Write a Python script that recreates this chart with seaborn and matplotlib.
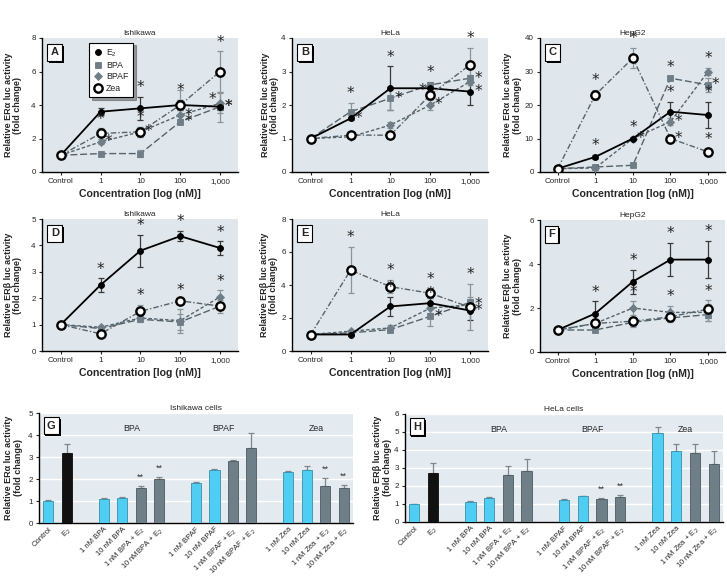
import numpy as np
import pandas as pd
import matplotlib
matplotlib.use("Agg")
import matplotlib.pyplot as plt
import matplotlib.patheffects as pe
import matplotlib.transforms as mtransforms
import matplotlib.colors as mcolors
from matplotlib.lines import Line2D
import seaborn as sns

sns.set_style("ticks")
plt.rcParams["font.family"] = ["Liberation Sans", "DejaVu Sans"]
plt.rcParams["mathtext.default"] = "regular"

W, H = 727, 576

# ---------------- data: concentration-response panels ----------------
conc_labels = ["Control", "1", "10", "100", "1,000"]
compounds = ["E2", "BPA", "BPAF", "Zea"]
legend_labels = ["E$_2$", "BPA", "BPAF", "Zea"]

# Panel A: Ishikawa ERalpha
A_E2 = [1.0, 3.6, 3.8, 4.0, 3.9]
A_BPA = [1.0, 1.1, 1.1, 3.0, 3.9]
A_BPAF = [1.0, 1.8, 2.4, 3.4, 4.1]
A_Zea = [1.0, 2.3, 2.4, 4.0, 6.0]
A_E2_err = [0, 0.2, 0.7, 0.3, 0.2]
A_BPA_err = [0, 0.05, 0.2, 0.15, 0.9]
A_BPAF_err = [0, 0.15, 0.3, 0.3, 0.6]
A_Zea_err = [0, 0.3, 0.3, 0.9, 1.2]
A_E2_sig = [0, 1, 1, 1, 2]
A_BPA_sig = [0, 0, 0, 2, 2]
A_BPAF_sig = [0, 2, 2, 2, 3]
A_Zea_sig = [0, 1, 1, 0, 1]

# Panel B: HeLa ERalpha
B_E2 = [1.0, 1.6, 2.5, 2.5, 2.4]
B_BPA = [1.0, 1.8, 2.2, 2.6, 2.8]
B_BPAF = [1.0, 1.05, 1.4, 2.0, 2.7]
B_Zea = [1.0, 1.1, 1.1, 2.3, 3.2]
B_E2_err = [0, 0.05, 0.65, 0.1, 0.4]
B_BPA_err = [0, 0.25, 0.35, 0.1, 0.1]
B_BPAF_err = [0, 0.05, 0.1, 0.15, 0.1]
B_Zea_err = [0, 0.05, 0.05, 0.1, 0.5]
B_E2_sig = [0, 2, 1, 0, 2]
B_BPA_sig = [0, 1, 2, 1, 2]
B_BPAF_sig = [0, 0, 0, 2, 0]
B_Zea_sig = [0, 0, 0, 3, 1]

# Panel C: HepG2 ERalpha
C_E2 = [1.0, 4.5, 10.0, 18.0, 17.0]
C_BPA = [1.0, 1.5, 2.0, 28.0, 26.0]
C_BPAF = [1.0, 1.2, 10.0, 15.0, 30.0]
C_Zea = [1.0, 23.0, 34.0, 10.0, 6.0]
C_E2_err = [0, 0.5, 0.5, 3.0, 4.0]
C_BPA_err = [0, 0.5, 0.5, 0.5, 2.0]
C_BPAF_err = [0, 0.3, 0.5, 1.0, 1.0]
C_Zea_err = [0, 1.5, 3.0, 1.0, 1.0]
C_E2_sig = [0, 1, 1, 1, 1]
C_BPA_sig = [0, 0, 0, 1, 2]
C_BPAF_sig = [0, 0, 2, 2, 1]
C_Zea_sig = [0, 1, 1, 2, 1]

# Panel D: Ishikawa ERbeta
D_E2 = [1.0, 2.5, 3.8, 4.35, 3.9]
D_BPA = [1.0, 0.85, 1.2, 1.1, 1.7]
D_BPAF = [1.0, 0.9, 1.25, 1.15, 2.05]
D_Zea = [1.0, 0.65, 1.5, 1.9, 1.7]
D_E2_err = [0, 0.25, 0.6, 0.2, 0.25]
D_BPA_err = [0, 0.05, 0.1, 0.3, 0.25]
D_BPAF_err = [0, 0.05, 0.1, 0.45, 0.25]
D_Zea_err = [0, 0.05, 0.25, 0.05, 0.1]
D_E2_sig = [0, 1, 1, 1, 1]
D_BPA_sig = [0, 0, 0, 0, 0]
D_BPAF_sig = [0, 0, 0, 0, 1]
D_Zea_sig = [0, 0, 1, 1, 0]

# Panel E: HeLa ERbeta
E_E2 = [1.0, 1.0, 2.7, 2.9, 2.45]
E_BPA = [1.0, 1.1, 1.3, 2.1, 2.95]
E_BPAF = [1.0, 1.2, 1.4, 2.6, 2.8]
E_Zea = [1.0, 4.9, 3.9, 3.5, 2.65]
E_E2_err = [0, 0.05, 0.6, 0.3, 0.6]
E_BPA_err = [0, 0.1, 0.1, 0.6, 0.3]
E_BPAF_err = [0, 0.1, 0.15, 0.3, 0.3]
E_Zea_err = [0, 1.4, 0.4, 0.3, 1.4]
E_E2_sig = [0, 0, 1, 0, 2]
E_BPA_sig = [0, 0, 0, 2, 0]
E_BPAF_sig = [0, 0, 0, 1, 2]
E_Zea_sig = [0, 1, 1, 1, 1]

# Panel F: HepG2 ERbeta
F_E2 = [1.0, 1.75, 3.2, 4.2, 4.2]
F_BPA = [1.0, 1.0, 1.35, 1.55, 1.7]
F_BPAF = [1.0, 1.3, 2.0, 1.8, 1.8]
F_Zea = [1.0, 1.3, 1.4, 1.6, 1.95]
F_E2_err = [0, 0.55, 0.55, 0.75, 0.85]
F_BPA_err = [0, 0.1, 0.2, 0.2, 0.3]
F_BPAF_err = [0, 0.1, 0.3, 0.3, 0.4]
F_Zea_err = [0, 0.1, 0.2, 0.2, 0.4]
F_E2_sig = [0, 1, 1, 1, 1]
F_BPA_sig = [0, 0, 0, 0, 0]
F_BPAF_sig = [0, 0, 1, 1, 0]
F_Zea_sig = [0, 0, 0, 0, 1]

# ---------------- data: bar panels ----------------
bar_labels_G = ["Control", "E$_2$",
                "1 nM BPA", "10 nM BPA", "1 nM BPA + E$_2$", "10 nMBPA + E$_2$",
                "1 nM BPAF", "10 nM BPAF", "1 nM BPAF + E$_2$", "10 nM BPAF + E$_2$",
                "1 nM Zea", "10 nM Zea", "1 nM Zea + E$_2$", "10 nM Zea + E$_2$"]
bar_labels_H = ["Control", "E$_2$",
                "1 nM BPA", "10 nM BPA", "1 nM BPA + E$_2$", "10 nM BPA + E$_2$",
                "1 nM BPAF", "10 nM BPAF", "1 nM BPAF + E$_2$", "10 nM BPAF + E$_2$",
                "1 nM Zea", "10 nM Zea", "1 nM Zea + E$_2$", "10 nM Zea + E$_2$"]
bar_kind = ["single", "e2", "single", "single", "combo", "combo",
            "single", "single", "combo", "combo", "single", "single", "combo", "combo"]
group_names = ["BPA", "BPAF", "Zea"]

G_values = [1.02, 3.2, 1.08, 1.15, 1.6, 2.0, 1.82, 2.4, 2.8, 3.4, 2.3, 2.4, 1.7, 1.6]
G_errs = [0.02, 0.4, 0.05, 0.05, 0.08, 0.1, 0.05, 0.05, 0.08, 0.7, 0.08, 0.18, 0.33, 0.12]
G_sig = [0, 0, 0, 0, 1, 1, 0, 0, 0, 0, 0, 0, 1, 1]

H_values = [1.0, 2.7, 1.12, 1.32, 2.62, 2.82, 1.22, 1.42, 1.3, 1.4, 4.95, 3.92, 3.82, 3.22]
H_errs = [0.02, 0.6, 0.04, 0.07, 0.5, 0.7, 0.04, 0.03, 0.03, 0.1, 0.35, 0.4, 0.5, 0.7]
H_sig = [0, 0, 0, 0, 0, 0, 0, 0, 1, 1, 0, 0, 0, 0]

# ---------------- styles ----------------
BG = "#dfe7ec"
BG_BAR = "#e4ebf0"
kind_colors = {"single": "#4fcdf3", "e2": "#111111", "combo": "#6e7f88"}
line_gray = "#56636b"
mark_gray = "#6f7d86"
styles = {
    "E2": dict(color="black", marker="o", markersize=4.3, markerfacecolor="black",
               markeredgecolor="black", markeredgewidth=0.6, linestyle="-", linewidth=1.3),
    "BPA": dict(color=line_gray, marker="s", markersize=4.2, markerfacecolor=mark_gray,
                markeredgecolor=mark_gray, markeredgewidth=0.6, linestyle=(0, (5, 2)), linewidth=1.0),
    "BPAF": dict(color=line_gray, marker="D", markersize=3.8, markerfacecolor=mark_gray,
                 markeredgecolor=mark_gray, markeredgewidth=0.6, linestyle=(0, (2.5, 1.5)), linewidth=1.0),
    "Zea": dict(color=line_gray, marker="o", markersize=6.0, markerfacecolor="white",
                markeredgecolor="black", markeredgewidth=1.7, linestyle=(0, (4, 1.5, 1, 1.5)), linewidth=1.0),
}
ecolors = {"E2": "#3a3a3a", "BPA": "#8a959b", "BPAF": "#8a959b", "Zea": "#8a959b"}
zorders = {"E2": 4, "BPA": 3, "BPAF": 3.5, "Zea": 5}

TICK_FS = 5.8
YLAB_FS = 6.5
XLAB_FS = 7.6
TITLE_FS = 6.0

fig = plt.figure(figsize=(W / 100, H / 100), dpi=100)


def add_axes_px(left, top, right, bottom):
    return fig.add_axes([left / W, 1 - bottom / H, (right - left) / W, (bottom - top) / H])


def letter_box(ax, letter, x=0.045, y=0.93):
    t = ax.text(x, y, letter, transform=ax.transAxes, ha="left", va="top",
                fontsize=8, fontweight="bold", zorder=10,
                bbox=dict(boxstyle="square,pad=0.3", fc="white", ec="black", lw=0.8))
    t.get_bbox_patch().set_path_effects([
        pe.SimplePatchShadow(offset=(1.3, -1.3), shadow_rgbFace="black", alpha=1.0),
        pe.Normal()])


def style_axes(ax, bg):
    ax.set_facecolor(bg)
    for s in ["top", "right"]:
        ax.spines[s].set_visible(False)
    for s in ["left", "bottom"]:
        ax.spines[s].set_color("black")
        ax.spines[s].set_linewidth(1.0)
    ax.tick_params(labelsize=TICK_FS, length=2.5, width=0.8, pad=2)


def line_panel(rect, title, letter, er, ylim, yticks, vals, errs, sigs, legend=False, ylab_x=-0.1):
    ax = add_axes_px(*rect)
    style_axes(ax, BG)
    pos = pd.Categorical(conc_labels, categories=conc_labels).codes
    yr = ylim[1] - ylim[0]
    for c in compounds:
        df = pd.DataFrame({"pos": pos, "value": vals[c], "err": errs[c]})
        ax.errorbar(df["pos"], df["value"], yerr=df["err"], fmt="none",
                    ecolor=ecolors[c], elinewidth=0.9, capsize=2.3, capthick=0.9, zorder=1)
        sns.lineplot(data=df, x="pos", y="value", ax=ax, errorbar=None,
                     zorder=zorders[c], **styles[c])
        for i, code in enumerate(sigs[c]):
            v, e = vals[c][i], errs[c][i]
            if code == 1:
                xy = (pos[i], v + e + 0.07 * yr)
            elif code == 2:
                xy = (pos[i] + 0.2, v)
            elif code == 3:
                xy = (pos[i] - 0.2, v + 0.03 * yr)
            else:
                continue
            ax.text(xy[0], xy[1], "*", ha="center", va="center", fontsize=11,
                    color="#222222", zorder=6, family="DejaVu Sans")
    ax.set_xlim(-0.47, 4.45)
    ax.set_ylim(*ylim)
    ax.set_yticks(yticks)
    ax.set_xticks(pos)
    ax.set_xticklabels(conc_labels)
    ax.set_title(title, fontsize=TITLE_FS, pad=2)
    ax.set_xlabel("Concentration [log (nM)]", fontsize=XLAB_FS, fontweight="bold", labelpad=3)
    ax.set_ylabel(f"Relative ER{er} luc activity\n(fold change)", fontsize=YLAB_FS,
                  fontweight="bold", linespacing=1.1)
    ax.yaxis.set_label_coords(ylab_x, 0.5)
    letter_box(ax, letter)
    if legend:
        handles = []
        for c, lab in zip(compounds, legend_labels):
            st = styles[c]
            handles.append(Line2D([], [], linestyle="none", marker=st["marker"],
                                  markersize=st["markersize"], markerfacecolor=st["markerfacecolor"],
                                  markeredgecolor=st["markeredgecolor"],
                                  markeredgewidth=st["markeredgewidth"], label=lab))
        leg = ax.legend(handles=handles, loc="upper left", bbox_to_anchor=(0.24, 0.965),
                        fontsize=6.3, frameon=True, fancybox=False, shadow=True,
                        handletextpad=0.4, borderpad=0.55, labelspacing=0.25,
                        handlelength=1.0, borderaxespad=0)
        leg.get_frame().set_edgecolor("black")
        leg.get_frame().set_linewidth(0.8)
        leg.set_zorder(10)
    return ax


def bar_panel(rect, title, letter, er, labels, values, errs, sig, ylim, ylab_x):
    ax = add_axes_px(*rect)
    style_axes(ax, BG_BAR)
    groups = [labels[2:6], labels[6:10], labels[10:14]]
    order = labels[:2] + [" "] + groups[0] + ["  "] + groups[1] + ["   "] + groups[2]
    df = pd.DataFrame({"treat": labels, "value": values, "err": errs, "kind": bar_kind})
    palette = {l: kind_colors[k] for l, k in zip(labels, bar_kind)}
    sns.barplot(data=df, x="treat", y="value", hue="treat", order=order,
                palette=palette, legend=False, width=0.55, saturation=1,
                errorbar=None, ax=ax, zorder=3)
    for p in ax.patches:
        fc = np.array(mcolors.to_rgb(p.get_facecolor()))
        p.set_edgecolor(fc * 0.7)
        p.set_linewidth(0.6)
    xs = [order.index(l) for l in labels]
    ax.errorbar(xs, values, yerr=[np.zeros(len(errs)), errs], fmt="none",
                ecolor="#7d878d", elinewidth=0.9, capsize=2.3, capthick=0.9, zorder=2)
    for x, v, e, s in zip(xs, values, errs, sig):
        if s:
            ax.text(x, v + e + 0.04 * ylim[1], "**", ha="center", va="bottom",
                    fontsize=6.5, color="#333333", zorder=5)
    trans = mtransforms.blended_transform_factory(ax.transData, ax.transAxes)
    for name, g in zip(group_names, groups):
        gx = np.mean([order.index(l) for l in g])
        ax.text(gx, 0.86, name, transform=trans, ha="center", va="center", fontsize=6.3)
    ax.set_ylim(*ylim)
    ax.set_yticks(range(ylim[0], ylim[1] + 1))
    ax.set_xlim(-0.5, len(order) - 0.5)
    ax.yaxis.grid(True, color="white", lw=1.0)
    ax.set_axisbelow(True)
    ax.tick_params(axis="x", length=0)
    ax.set_xticks(range(len(order)))
    ax.set_xticklabels(order, rotation=45, ha="right", rotation_mode="anchor", fontsize=5.5)
    ax.set_xlabel("")
    ax.set_title(title, fontsize=TITLE_FS, pad=2)
    ax.set_ylabel(f"Relative ER{er} luc activity\n(fold change)", fontsize=YLAB_FS,
                  fontweight="bold", linespacing=1.1)
    ax.yaxis.set_label_coords(ylab_x, 0.5)
    letter_box(ax, letter, x=0.025, y=0.93)
    return ax


def pack(e2, bpa, bpaf, zea):
    return {"E2": e2, "BPA": bpa, "BPAF": bpaf, "Zea": zea}


line_panel((42, 38, 238, 172), "Ishikawa", "A", "α", (0, 8), [0, 2, 4, 6, 8],
           pack(A_E2, A_BPA, A_BPAF, A_Zea), pack(A_E2_err, A_BPA_err, A_BPAF_err, A_Zea_err),
           pack(A_E2_sig, A_BPA_sig, A_BPAF_sig, A_Zea_sig), legend=True, ylab_x=-0.1)
line_panel((292, 38, 488, 172), "HeLa", "B", "α", (0, 4), [0, 1, 2, 3, 4],
           pack(B_E2, B_BPA, B_BPAF, B_Zea), pack(B_E2_err, B_BPA_err, B_BPAF_err, B_Zea_err),
           pack(B_E2_sig, B_BPA_sig, B_BPAF_sig, B_Zea_sig), ylab_x=-0.065)
line_panel((540, 38, 725, 172), "HepG2", "C", "α", (0, 40), [0, 10, 20, 30, 40],
           pack(C_E2, C_BPA, C_BPAF, C_Zea), pack(C_E2_err, C_BPA_err, C_BPAF_err, C_Zea_err),
           pack(C_E2_sig, C_BPA_sig, C_BPAF_sig, C_Zea_sig), ylab_x=-0.1)
line_panel((42, 219, 238, 351), "Ishikawa", "D", "β", (0, 5), [0, 1, 2, 3, 4, 5],
           pack(D_E2, D_BPA, D_BPAF, D_Zea), pack(D_E2_err, D_BPA_err, D_BPAF_err, D_Zea_err),
           pack(D_E2_sig, D_BPA_sig, D_BPAF_sig, D_Zea_sig), ylab_x=-0.1)
line_panel((292, 219, 488, 351), "HeLa", "E", "β", (0, 8), [0, 2, 4, 6, 8],
           pack(E_E2, E_BPA, E_BPAF, E_Zea), pack(E_E2_err, E_BPA_err, E_BPAF_err, E_Zea_err),
           pack(E_E2_sig, E_BPA_sig, E_BPAF_sig, E_Zea_sig), ylab_x=-0.07)
line_panel((540, 220, 725, 352), "HepG2", "F", "β", (0, 6), [0, 2, 4, 6],
           pack(F_E2, F_BPA, F_BPAF, F_Zea), pack(F_E2_err, F_BPA_err, F_BPAF_err, F_Zea_err),
           pack(F_E2_sig, F_BPA_sig, F_BPAF_sig, F_Zea_sig), ylab_x=-0.1)

bar_panel((39, 413, 353, 523), "Ishikawa cells", "G", "α", bar_labels_G,
          G_values, G_errs, G_sig, (0, 5), -0.052)
bar_panel((405, 414, 723, 522), "HeLa cells", "H", "β", bar_labels_H,
          H_values, H_errs, H_sig, (0, 6), -0.042)

fig.savefig("out.png", dpi=100)
